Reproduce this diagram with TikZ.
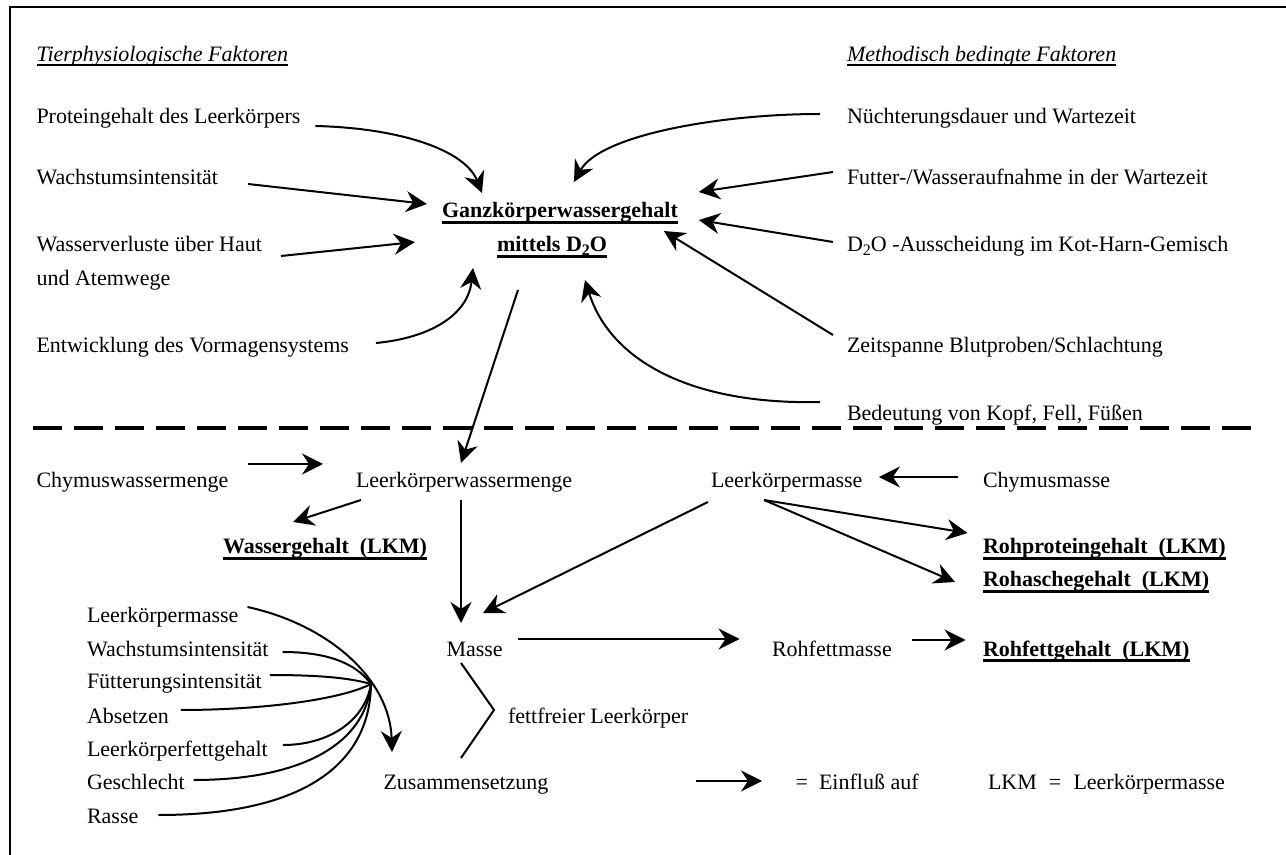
\documentclass[tikz,border=0pt]{standalone}
\usepackage{fontspec}
\setmainfont{Liberation Serif}
\usetikzlibrary{arrows.meta,calc}
\newcommand{\lowtwo}{\raisebox{-0.32ex}{\fontsize{8}{9}\selectfont 2}}
\begin{document}
\begin{tikzpicture}[x=0.5pt,y=-0.5pt,
  font=\fontsize{11}{13}\selectfont,
  txt/.style={anchor=base west,inner sep=0pt,outer sep=0pt},
  arr/.style={line width=1pt,-{Stealth[length=10.5pt,width=10.5pt,inset=3.5pt]}},
  ln/.style={line width=1pt},
  ulthin/.style={line width=0.9pt},
  ulbold/.style={line width=1.4pt}]
\useasboundingbox (0,0) rectangle (1286,855);
% frame
\draw[line width=1pt] (10,855) -- (10,7) -- (1286,7);
% headings
\node[txt] (th) at (36.5,62) {\textit{Tierphysiologische Faktoren}};
\node[txt] (mb) at (847,62) {\textit{Methodisch bedingte Faktoren}};
\draw[ulthin] ([yshift=-1.6pt]th.base west) -- ([yshift=-1.6pt]th.base east);
\draw[ulthin] ([yshift=-1.6pt]mb.base west) -- ([yshift=-1.6pt]mb.base east);
% upper left factors
\node[txt] (prot) at (36.5,124) {Proteingehalt des Leerkörpers};
\node[txt] (wachs) at (36.5,185) {Wachstumsintensität};
\node[txt] (wass) at (36.5,252) {Wasserverluste über Haut};
\node[txt] (atem) at (36.5,286) {und Atemwege};
\node[txt] (entw) at (36.5,353) {Entwicklung des Vormagensystems};
% centre
\node[txt] (g) at (442,218) {\textbf{Ganzkörperwassergehalt}};
\node[txt] (m) at (497,252) {\textbf{mittels D\lowtwo O}};
\draw[ulbold] ([yshift=-2.1pt]g.base west) -- ([yshift=-2.1pt]g.base east);
\draw[ulbold] ([yshift=-2.4pt]m.base west) -- ([yshift=-2.4pt]m.base east);
% upper right factors
\node[txt] (nue) at (847,124) {Nüchterungsdauer und Wartezeit};
\node[txt] (fut) at (847,185) {Futter-/Wasseraufnahme in der Wartezeit};
\node[txt] (d2o) at (847,252) {D\lowtwo O -Ausscheidung im Kot-Harn-Gemisch};
\node[txt] (zeit) at (847,353) {Zeitspanne Blutproben/Schlachtung};
\node[txt] (bed) at (847,421) {Bedeutung von Kopf, Fell, Füßen};
% upper arrows
\draw[arr] ([shift={(15,2)}]prot.base east) .. controls (400,128) and (465,150) .. ([shift={(40,-25)}]g.base west);
\draw[arr] ([shift={(30,-1)}]wachs.base east) -- ([shift={(-15,-14)}]g.base west);
\draw[arr] ([shift={(19,4)}]wass.base east) -- ([shift={(-27,24)}]g.base west);
\draw[arr] ([shift={(27,-10)}]entw.base east) .. controls (430,338) and (468,315) .. ([shift={(-24,16)}]m.base west);
\draw[arr] ([shift={(-27,-10)}]nue.base west) .. controls (720,114) and (600,135) .. ([shift={(132,-36)}]g.base west);
\draw[arr] ([shift={(-14,-13)}]fut.base west) -- ([shift={(21,-26)}]g.base east);
\draw[arr] ([shift={(-14,-10)}]d2o.base west) -- ([shift={(21,2)}]g.base east);
\draw[arr] ([shift={(-14,-18)}]zeit.base west) -- ([shift={(-14,13)}]g.base east);
\draw[arr] ([shift={(-27,-19)}]bed.base west) .. controls (690,405) and (610,360) .. ([shift={(88,28)}]m.base west);
% separator
\draw[line width=2pt,dash pattern=on 14.5pt off 6pt] (33,428) -- (1262,428);
% lower nodes
\node[txt] (chw) at (36.5,488) {Chymuswassermenge};
\node[txt] (lkw) at (356,488) {Leerkörperwassermenge};
\node[txt] (lkm) at (711,488) {Leerkörpermasse};
\node[txt] (cm) at (983,488) {Chymusmasse};
\node[txt] (wg) at (223,554) {\textbf{Wassergehalt~~(LKM)}};
\node[txt] (rp) at (983,554) {\textbf{Rohproteingehalt~~(LKM)}};
\node[txt] (ra) at (983,587) {\textbf{Rohaschegehalt~~(LKM)}};
\node[txt] (masse) at (446.5,656) {Masse};
\node[txt] (rfm) at (772,656) {Rohfettmasse};
\node[txt] (rfg) at (983,656) {\textbf{Rohfettgehalt~~(LKM)}};
\node[txt] (ff) at (508,723) {fettfreier Leerkörper};
\node[txt] (zus) at (383.5,789) {Zusammensetzung};
\foreach \n in {wg,rp,ra,rfg}{
  \draw[ulbold] ([yshift=-2.1pt]\n.base west) -- ([yshift=-2.1pt]\n.base east);
}
% left list
\node[txt] (l1) at (87,623) {Leerkörpermasse};
\node[txt] (l2) at (87,656) {Wachstumsintensität};
\node[txt] (l3) at (87,689) {Fütterungsintensität};
\node[txt] (l4) at (87,723) {Absetzen};
\node[txt] (l5) at (87,756) {Leerkörperfettgehalt};
\node[txt] (l6) at (87,789) {Geschlecht};
\node[txt] (l7) at (87,823) {Rasse};
% legend
\node[txt] (eq) at (795.5,789) {=};
\node[txt] (einf) at (819,789) {Einfluß auf};
\node[txt] (lkmdef) at (988,789) {LKM\hspace{0.55em}=\hspace{0.55em}Leerkörpermasse};
% lower arrows
\coordinate (dstart) at ([shift={(21,38)}]m.base west);
\draw[arr] (dstart) -- ([shift={(105,-25)}]lkw.base west);
\draw[arr] ([shift={(19.5,-24)}]chw.base east) -- ([shift={(-33,-24)}]lkw.base west);
\draw[arr] ([shift={(5,12)}]lkw.base west) -- ([shift={(70,-32)}]wg.base west);
\draw[arr] ([shift={(105,12)}]lkw.base west) -- ([shift={(14.5,-33)}]masse.base west);
\draw[arr] ([shift={(-3,14)}]lkm.base west) -- ([shift={(36.5,-43)}]masse.base west);
\draw[arr] ([shift={(53,12)}]lkm.base west) -- ([shift={(-15.5,-21)}]rp.base west);
\draw[arr] ([shift={(53,12)}]lkm.base west) -- ([shift={(-28,-5)}]ra.base west);
\draw[arr] ([shift={(-24.6,-11)}]cm.base west) -- ([shift={(16.4,-11)}]lkm.base east);
\draw[arr] ([shift={(15,-17)}]masse.base east) -- ([shift={(-32.5,-17)}]rfm.base west);
\draw[arr] ([shift={(20,-16)}]rfm.base east) -- ([shift={(-17.5,-16)}]rfg.base west);
\draw[arr] ([shift={(-99.5,-8)}]eq.base west) -- ([shift={(-33.5,-8)}]eq.base west);
% bracket
\draw[ln] ([shift={(14.5,7)}]masse.base west) -- ([shift={(-14,-13)}]ff.base west) -- ([shift={(77.5,-31)}]zus.base west);
% converging curves
\coordinate (conv) at (371,684);
\draw[arr] ([shift={(9,-16)}]l1.base east) .. controls (330,625) and (390,680) .. ([shift={(8.5,-37)}]zus.base west);
\draw[ln] ([shift={(14,-4)}]l2.base east) .. controls (325,652) and (355,662) .. (conv);
\draw[ln] ([shift={(8,-14)}]l3.base east) .. controls (320,675) and (350,678) .. (conv);
\draw[ln] ([shift={(12,-13)}]l4.base east) .. controls (260,710) and (340,700) .. (conv);
\draw[ln] ([shift={(15,-11)}]l5.base east) .. controls (330,745) and (365,720) .. (conv);
\draw[ln] ([shift={(9,-9)}]l6.base east) .. controls (300,780) and (365,745) .. (conv);
\draw[ln] ([shift={(20,-8)}]l7.base east) .. controls (310,815) and (370,760) .. (conv);
\end{tikzpicture}
\end{document}
